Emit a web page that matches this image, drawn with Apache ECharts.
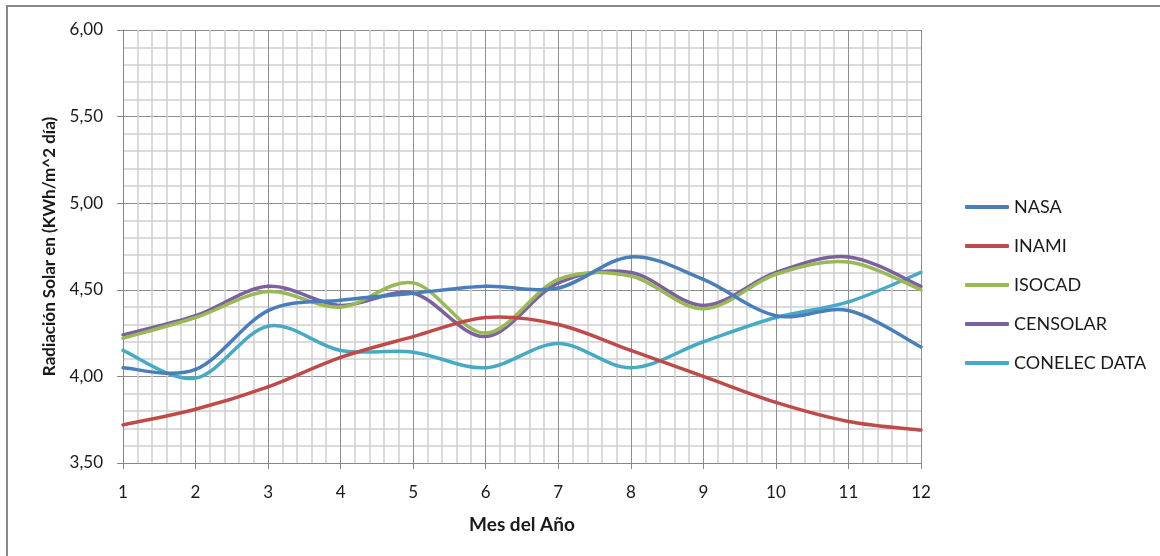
<!DOCTYPE html>
<html>
<head>
<meta charset="utf-8">
<script src="https://cdn.jsdelivr.net/npm/echarts@6/dist/echarts.min.js"></script>
<style>
html,body{margin:0;padding:0;background:#fff;}
#chart{width:1160px;height:556px;}
</style>
</head>
<body>
<div id="chart"></div>
<script>
const months = [1,2,3,4,5,6,7,8,9,10,11,12];
const seriesNames = ['NASA','INAMI','ISOCAD','CENSOLAR','CONELEC DATA'];
const nasa     = [4.05,4.04,4.38,4.44,4.48,4.52,4.51,4.69,4.56,4.35,4.38,4.17];
const inami    = [3.72,3.81,3.94,4.11,4.23,4.34,4.30,4.15,4.00,3.85,3.74,3.69];
const isocad   = [4.22,4.34,4.49,4.40,4.54,4.25,4.56,4.58,4.39,4.59,4.66,4.50];
const censolar = [4.24,4.35,4.52,4.41,4.48,4.23,4.54,4.60,4.41,4.60,4.69,4.52];
const conelec  = [4.15,3.99,4.29,4.15,4.14,4.05,4.19,4.05,4.20,4.34,4.43,4.60];
const colors = ['#4A7EBB','#BE4B48','#98B954','#7D60A0','#46AAC5'];
const allValues = [nasa, inami, isocad, censolar, conelec];

const FONT = 'Lato';
const chart = echarts.init(document.getElementById('chart'), null, {renderer:'canvas'});

// Excel-like smoothed line: Catmull-Rom bezier segments in pixel space,
// every point obtained from the axis scales through api.coord.
function makeRender(vals, color) {
  return function (params, api) {
    const j = params.dataIndex;
    const n = vals.length;
    if (j >= n - 1) return null;
    const pt = k => {
      const kk = Math.max(0, Math.min(n - 1, k));
      return api.coord([months[kk], vals[kk]]);
    };
    const p0 = pt(j - 1), p1 = pt(j), p2 = pt(j + 1), p3 = pt(j + 2);
    const t = 1 / 6;
    return {
      type: 'bezierCurve',
      shape: {
        x1: p1[0], y1: p1[1], x2: p2[0], y2: p2[1],
        cpx1: p1[0] + (p2[0] - p0[0]) * t, cpy1: p1[1] + (p2[1] - p0[1]) * t,
        cpx2: p2[0] - (p3[0] - p1[0]) * t, cpy2: p2[1] - (p3[1] - p1[1]) * t
      },
      style: {fill: null, stroke: color, lineWidth: 3.5, lineCap: 'round'},
      silent: true
    };
  };
}

const series = seriesNames.map((name, i) => ({
  name: name,
  type: 'custom',
  data: months.map((m, j) => [m, allValues[i][j]]),
  encode: {x: 0, y: 1},
  renderItem: makeRender(allValues[i], colors[i]),
  itemStyle: {color: colors[i]},
  clip: false,
  z: 10 - i
}));

chart.setOption({
  animation: false,
  backgroundColor: '#fff',
  textStyle: {fontFamily: FONT},
  graphic: [{
    type: 'rect',
    shape: {x: 7, y: 6, width: 1170, height: 580},
    style: {fill: 'none', stroke: '#888', lineWidth: 2},
    silent: true
  }],
  grid: {left: 123, top: 30, width: 798, height: 433, containLabel: false},
  legend: {
    orient: 'vertical',
    left: 960,
    top: 193,
    itemWidth: 44,
    itemHeight: 4,
    itemGap: 21,
    icon: 'roundRect',
    textStyle: {fontFamily: FONT, fontSize: 18, color: '#1a1a1a', lineHeight: 18},
    data: seriesNames.map((n, i) => ({name: n, itemStyle: {color: colors[i]}}))
  },
  xAxis: {
    type: 'value',
    min: 1, max: 12, interval: 1,
    name: 'Mes del Año',
    nameLocation: 'middle',
    nameGap: 52,
    nameTextStyle: {fontFamily: FONT, fontSize: 19, fontWeight: 'bold', color: '#1a1a1a'},
    axisLine: {show: true, lineStyle: {color: '#868686', width: 1}},
    axisTick: {show: true, length: 6, lineStyle: {color: '#868686'}},
    axisLabel: {fontFamily: FONT, fontSize: 17, color: '#1a1a1a', margin: 21},
    splitLine: {show: true, lineStyle: {color: '#8e8e8e', width: 1}},
    minorTick: {show: false, splitNumber: 5},
    minorSplitLine: {show: true, lineStyle: {color: '#d0d0d0', width: 1.5}}
  },
  yAxis: {
    type: 'value',
    min: 3.5, max: 6, interval: 0.5,
    name: 'Radiación Solar en (KWh/m^2 día)',
    nameLocation: 'middle',
    nameGap: 65,
    nameRotate: 90,
    nameTextStyle: {fontFamily: FONT, fontSize: 17, fontWeight: 'bold', color: '#1a1a1a'},
    axisLine: {show: true, lineStyle: {color: '#868686', width: 1}},
    axisTick: {show: true, length: 6, lineStyle: {color: '#868686'}},
    axisLabel: {fontFamily: FONT, fontSize: 17, color: '#1a1a1a', margin: 20,
      formatter: v => v.toFixed(2).replace('.', ',')},
    splitLine: {show: true, lineStyle: {color: '#8e8e8e', width: 1}},
    minorTick: {show: false, splitNumber: 5},
    minorSplitLine: {show: true, lineStyle: {color: '#d0d0d0', width: 1.5}}
  },
  series: series
});
</script>
</body>
</html>
